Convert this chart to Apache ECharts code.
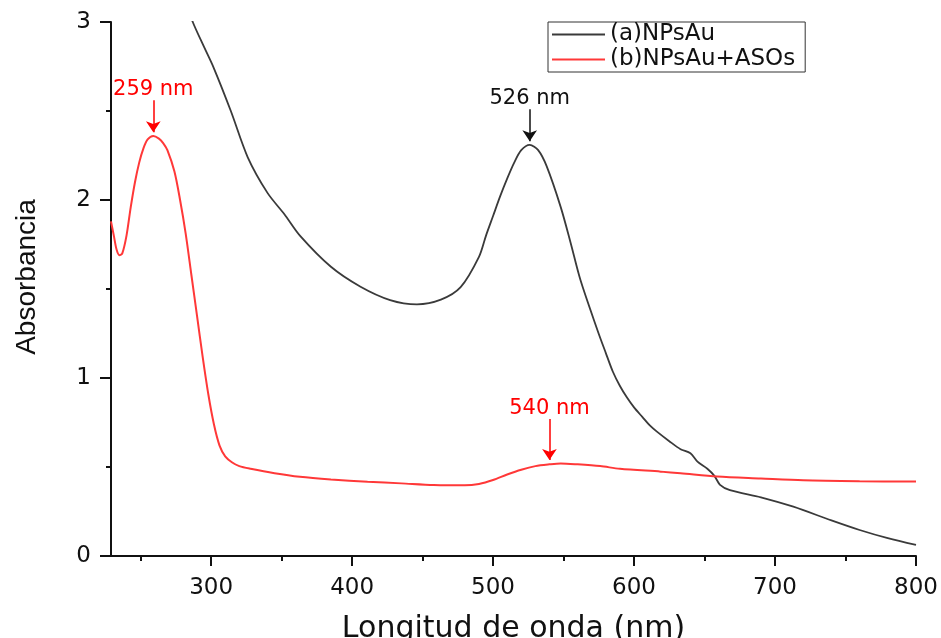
<!DOCTYPE html>
<html>
<head>
<meta charset="utf-8">
<script src="https://cdn.jsdelivr.net/npm/echarts@6/dist/echarts.min.js"></script>
<style>
  html, body { margin: 0; padding: 0; background: #fff; }
  #chart { width: 941px; height: 638px; }
</style>
</head>
<body>
<div id="chart"></div>
<script>
// UV-Vis absorbance spectra
const seriesNames = ['(a)NPsAu', '(b)NPsAu+ASOs'];

// (a) gold nanoparticles
const wavelengthA = [283, 287, 295, 302, 314, 326, 340, 352, 363, 385, 406, 427, 446, 463, 477, 490, 495, 500, 505, 510, 515, 520, 526, 532, 538, 548, 555, 562, 574, 580, 585, 590, 595, 600, 606, 611, 616, 625, 633, 640, 645, 652, 657, 661, 668, 690, 713, 740, 760, 780, 800];
const absorbA     = [3.10, 3.00, 2.86, 2.74, 2.50, 2.24, 2.04, 1.92, 1.80, 1.625, 1.513, 1.438, 1.414, 1.44, 1.51, 1.68, 1.80, 1.91, 2.02, 2.12, 2.21, 2.28, 2.31, 2.28, 2.19, 1.96, 1.76, 1.55, 1.27, 1.14, 1.035, 0.955, 0.89, 0.835, 0.78, 0.735, 0.70, 0.645, 0.60, 0.577, 0.53, 0.49, 0.45, 0.40, 0.37, 0.33, 0.277, 0.20, 0.146, 0.10, 0.062];

// (b) gold nanoparticles + ASOs
const wavelengthB = [229, 231, 233, 235, 237, 240, 243, 246, 249, 252, 255, 259, 263, 266, 269, 274, 278, 282, 286, 290, 294, 298, 302, 306, 310, 315, 320, 328, 345, 363, 385, 411, 435, 458, 480, 490, 500, 510, 520, 530, 540, 548, 560, 576, 590, 619, 633, 659, 690, 720, 760, 800];
const absorbB     = [1.88, 1.80, 1.72, 1.69, 1.70, 1.80, 1.96, 2.10, 2.21, 2.29, 2.34, 2.36, 2.345, 2.32, 2.28, 2.16, 2.00, 1.81, 1.58, 1.35, 1.12, 0.91, 0.74, 0.62, 0.56, 0.525, 0.505, 0.49, 0.465, 0.445, 0.43, 0.417, 0.408, 0.399, 0.397, 0.405, 0.427, 0.458, 0.485, 0.505, 0.515, 0.52, 0.515, 0.505, 0.49, 0.474, 0.465, 0.446, 0.435, 0.425, 0.42, 0.418];

// Peak annotations: [wavelength, arrow top, arrow tip]
const peakA  = [526, 2.51, 2.33];
const peakB1 = [259, 2.56, 2.38];
const peakB2 = [540, 0.77, 0.54];

// Axis ticks
const xMin = 229, xMax = 800;
const xMajorTicks = [300, 400, 500, 600, 700, 800];
const xMinorTicks = [250, 350, 450, 550, 650, 750];

const zip = (xs, ys) => xs.map((x, i) => [x, ys[i]]);

const FONT = 'DejaVu Sans';
const BLACK = '#3a3a3a';
const RED = '#ff3838';

function peakLine(peak, textColor) {
  return [
    { coord: [peak[0], peak[1]],
      label: { show: true, position: 'start', distance: 0, formatter: peak[0] + ' nm',
               color: textColor, fontSize: 21, fontFamily: FONT } },
    { coord: [peak[0], peak[2]] }
  ];
}

const chart = echarts.init(document.getElementById('chart'), null, { renderer: 'canvas' });

chart.setOption({
  animation: false,
  backgroundColor: '#ffffff',
  grid: { left: 111, right: 25, top: 22, bottom: 82, containLabel: false, outerBoundsMode: 'none' },
  legend: {
    left: 548, top: 22,
    orient: 'vertical',
    itemGap: 2,
    itemWidth: 53,
    itemHeight: 2,
    icon: 'rect',
    padding: [1, 10, 1, 4],
    borderColor: '#333',
    borderWidth: 1,
    textStyle: { fontFamily: FONT, fontSize: 23, color: '#111' },
    data: seriesNames
  },
  xAxis: [
    {
      type: 'value', min: xMin, max: xMax,
      axisLine: { show: true, lineStyle: { color: '#111', width: 2 } },
      axisTick: { show: true, customValues: xMajorTicks, length: 10, lineStyle: { color: '#111', width: 2 } },
      axisLabel: { customValues: xMajorTicks, margin: 21, color: '#111', fontSize: 23, fontFamily: FONT },
      splitLine: { show: false },
      name: 'Longitud de onda (nm)',
      nameLocation: 'middle',
      nameGap: 58,
      nameTextStyle: { fontFamily: FONT, fontSize: 30, color: '#111' }
    },
    {
      type: 'value', min: xMin, max: xMax, position: 'bottom',
      axisLine: { show: false },
      axisTick: { show: true, customValues: xMinorTicks, length: 5, lineStyle: { color: '#111', width: 2 } },
      axisLabel: { show: false },
      splitLine: { show: false }
    }
  ],
  yAxis: {
    type: 'value', min: 0, max: 3, interval: 1,
    axisLine: { show: true, lineStyle: { color: '#111', width: 2 } },
    axisTick: { show: true, length: 11, lineStyle: { color: '#111', width: 2 } },
    minorTick: { show: true, splitNumber: 2, length: 5, lineStyle: { color: '#111', width: 2 } },
    axisLabel: { margin: 20, color: '#111', fontSize: 23, fontFamily: FONT },
    splitLine: { show: false },
    minorSplitLine: { show: false },
    name: 'Absorbancia',
    nameLocation: 'middle',
    nameGap: 70,
    nameRotate: 90,
    nameTextStyle: { fontFamily: 'Liberation Sans', fontSize: 28, color: '#111', padding: [0, 0, 0, 24] }
  },
  series: [
    {
      name: seriesNames[0], type: 'line', xAxisIndex: 0,
      data: zip(wavelengthA, absorbA),
      symbol: 'none', smooth: 0.3, clip: true,
      lineStyle: { color: BLACK, width: 1.8 },
      itemStyle: { color: BLACK },
      markLine: {
        silent: true, symbol: ['none', 'arrow'], symbolSize: 11,
        lineStyle: { color: '#111', width: 1.5, type: 'solid' },
        data: [peakLine(peakA, '#111')]
      }
    },
    {
      name: seriesNames[1], type: 'line', xAxisIndex: 0,
      data: zip(wavelengthB, absorbB),
      symbol: 'none', smooth: 0.3, clip: true,
      lineStyle: { color: RED, width: 2 },
      itemStyle: { color: RED },
      markLine: {
        silent: true, symbol: ['none', 'arrow'], symbolSize: 11,
        lineStyle: { color: '#ff0000', width: 1.5, type: 'solid' },
        data: [peakLine(peakB1, '#ff0000'), peakLine(peakB2, '#ff0000')]
      }
    }
  ]
});
</script>
</body>
</html>
